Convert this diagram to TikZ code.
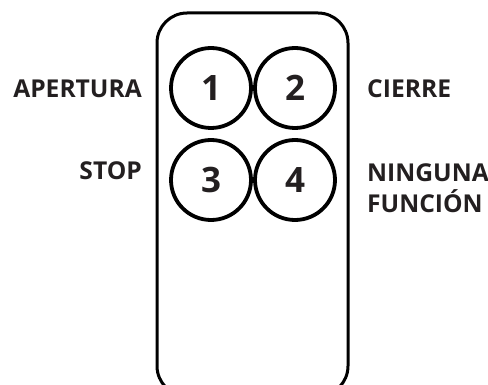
\documentclass[tikz,border=0pt]{standalone}
\usepackage{fontspec}
\setmainfont{Open Sans}
\definecolor{ink}{HTML}{231F20}
\begin{document}
\begin{tikzpicture}[x=1pt,y=-1pt,
  body/.style={draw=black,line width=3pt,rounded corners=30pt},
  button/.style={circle,draw=black,line width=3.8pt,minimum size=80pt,inner sep=0pt,
    font=\fontsize{35}{35}\selectfont\bfseries,text=ink},
  label/.style={font=\fontsize{24.6}{24}\selectfont\bfseries,text=ink,inner sep=0pt}]
  \useasboundingbox (0,0) rectangle (488,385);
  \clip (0,0) rectangle (488,385);
  % remote body
  \draw[body] (157,13) rectangle (348,396);
  % buttons
  \node[button] (b1) at (211,88) {1};
  \node[button] (b2) at (295,88) {2};
  \node[button] (b3) at (211,180) {3};
  \node[button] (b4) at (295,180) {4};
  % function labels
  \node[label,anchor=base east] (l1) at (142,98) {APERTURA};
  \node[label,anchor=base east] (l3) at (142,180) {STOP};
  \node[label,anchor=base west] (l2) at (367,98) {CIERRE};
  \node[label,anchor=base west] (l4a) at (367,182) {NINGUNA};
  \node[label,anchor=base west] (l4b) at (367,213) {FUNCIÓN};
\end{tikzpicture}
\end{document}
